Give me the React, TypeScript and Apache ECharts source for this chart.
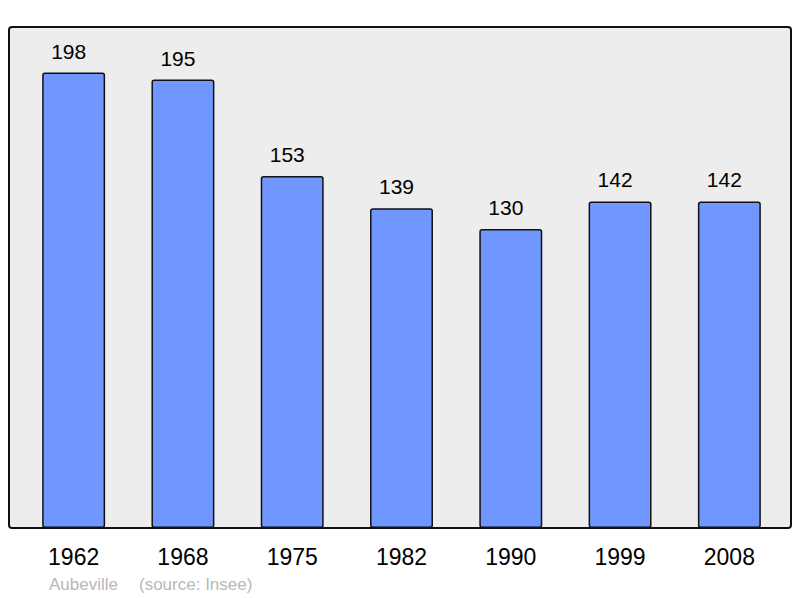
import React, { useEffect, useRef } from 'react';
import * as echarts from 'echarts';

const years = ['1962', '1968', '1975', '1982', '1990', '1999', '2008'];
const population = [198, 195, 153, 139, 130, 142, 142];
const footerName = 'Aubeville';
const footerSource = '(source: Insee)';

const App: React.FC = () => {
  const chartRef = useRef<HTMLDivElement>(null);

  useEffect(() => {
    if (!chartRef.current) return;
    const chart = echarts.init(chartRef.current, null, { renderer: 'svg' });

    chart.setOption({
      animation: false,
      textStyle: { fontFamily: 'Liberation Sans, Arial, sans-serif' },
      graphic: [
        {
          type: 'rect',
          z: -10,
          shape: { x: 9, y: 27, width: 782, height: 501, r: 3 },
          style: { fill: '#ededed', stroke: '#111', lineWidth: 2 },
        },
        {
          type: 'text',
          left: 49,
          top: 576,
          style: { text: footerName, fill: '#b8b8b8', font: '17px Liberation Sans, Arial, sans-serif' },
        },
        {
          type: 'text',
          left: 139,
          top: 576,
          style: { text: footerSource, fill: '#b8b8b8', font: '17px Liberation Sans, Arial, sans-serif' },
        },
      ],
      grid: { left: 19, right: 16, top: 68, bottom: 70 },
      xAxis: {
        type: 'category',
        data: years,
        axisLine: { show: false },
        axisTick: { show: false },
        axisLabel: { color: '#000', fontSize: 23, margin: 17 },
      },
      yAxis: {
        type: 'value',
        min: 0,
        max: 200,
        show: false,
        splitLine: { show: false },
      },
      series: [
        {
          type: 'bar',
          data: population,
          barWidth: '57.6%',
          itemStyle: {
            color: '#7097ff',
            borderColor: '#111',
            borderWidth: 1.5,
            borderRadius: 2,
          },
          label: {
            show: true,
            position: 'top',
            distance: 11,
            offset: [-5, 0],
            color: '#000',
            fontSize: 21,
          },
        },
      ],
    });

    return () => chart.dispose();
  }, []);

  return <div ref={chartRef} style={{ width: '800px', height: '598px', position: 'absolute', left: 0, top: 0 }}></div>;
};

export default App;
